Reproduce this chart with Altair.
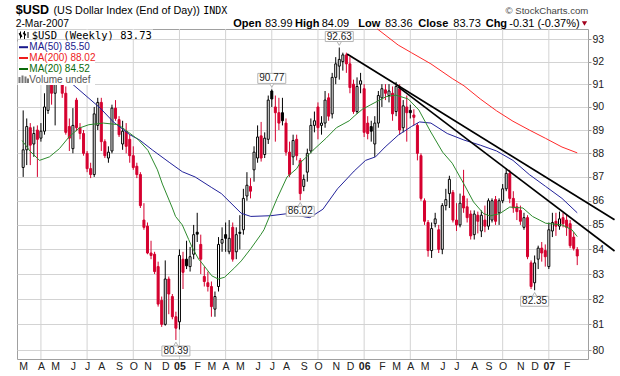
import altair as alt
import pandas as pd
import numpy as np

# ---------------- data (weekly $USD bars, index 0 = week of 1-Mar-2004) ----------------
opens = [87.4, 88.15, 89.1, 88.4, 89.0, 88.65, 88.95, 89.85, 91.3, 90.6,
         91.9, 92.0, 90.6, 89.15, 88.2, 90.3, 89.1, 88.85, 88.0, 87.35,
         87.1, 89.2, 90.2, 88.5, 87.8, 88.1, 89.95, 89.45, 88.4, 88.95,
         88.6, 87.9, 87.45, 87.1, 85.2, 84.95, 83.85, 83.8, 83.3, 81.95,
         81.0, 82.8, 82.1, 81.3, 81.1, 83.6, 83.6, 83.3, 83.8, 84.7,
         84.2, 82.9, 82.65, 82.5, 81.6, 82.5, 84.25, 84.6, 83.9, 84.9,
         83.9, 84.7, 84.8, 86.2, 86.6, 87.3, 87.8, 88.75, 87.95, 88.6,
         90.7, 90.0, 89.75, 89.75, 89.3, 88.05, 87.85, 88.6, 87.7, 86.6,
         87.2, 88.1, 89.2, 90.0, 89.2, 89.3, 90.4, 89.7, 91.3, 91.8,
         92.0, 92.3, 91.9, 91.0, 89.8, 91.0, 90.8, 89.3, 89.15, 88.4,
         89.3, 90.4, 90.75, 90.5, 90.6, 89.8, 90.8, 89.1, 90.0, 89.85,
         89.65, 89.2, 87.9, 86.0, 85.1, 83.95, 85.05, 84.8, 84.0, 85.8,
         86.3, 86.35, 85.2, 85.0, 86.2, 85.75, 85.45, 84.6, 85.4, 84.75,
         85.2, 84.95, 85.2, 86.05, 85.5, 86.0, 86.5, 87.15, 86.1, 85.75,
         85.6, 84.9, 85.3, 83.45, 82.65, 83.6, 84.05, 83.95, 83.3, 84.75,
         85.15, 84.95, 85.3, 85.2, 85.05, 84.5, 83.99]
highs = [89.85, 89.5, 89.3, 89.15, 89.2, 89.3, 90.6, 91.6, 91.5, 92.1,
         92.3, 92.2, 90.9, 89.5, 89.95, 90.4, 89.3, 89.0, 88.1, 87.6,
         90.0, 90.4, 90.4, 88.6, 88.3, 90.1, 90.3, 89.6, 89.4, 89.3,
         88.8, 88.3, 87.6, 87.2, 85.9, 85.1, 84.35, 83.9, 83.5, 82.1,
         83.55, 82.9, 82.2, 81.5, 84.0, 83.9, 84.35, 84.1, 85.0, 85.5,
         84.6, 83.3, 83.1, 82.7, 82.3, 84.5, 84.9, 85.1, 85.2, 85.1,
         84.9, 85.4, 86.5, 87.2, 86.95, 88.3, 89.2, 89.35, 88.9, 90.5,
         90.77, 90.5, 90.4, 90.4, 89.5, 88.5, 88.8, 88.8, 87.8, 87.1,
         88.2, 89.5, 89.8, 90.2, 89.6, 90.7, 90.6, 91.5, 92.2, 92.63,
         92.4, 92.4, 92.2, 91.2, 91.3, 91.5, 91.0, 89.6, 89.4, 89.6,
         90.7, 91.0, 91.0, 91.0, 90.9, 91.1, 91.0, 90.3, 90.5, 90.1,
         89.9, 89.3, 88.0, 86.1, 85.2, 85.1, 85.5, 85.0, 85.9, 86.5,
         87.05, 86.45, 85.9, 86.3, 87.3, 86.1, 85.6, 85.6, 85.55, 85.6,
         85.8, 86.1, 86.1, 86.2, 86.1, 86.7, 87.35, 87.3, 86.4, 85.9,
         85.8, 85.5, 85.4, 83.55, 83.75, 84.15, 84.3, 84.2, 85.1, 85.5,
         85.5, 85.55, 85.5, 85.45, 85.2, 84.7, 84.09]
lows = [87.0, 87.5, 87.5, 87.85, 87.0, 88.5, 88.8, 89.7, 90.1, 89.2,
        91.5, 90.4, 88.8, 88.1, 88.0, 88.95, 88.6, 87.9, 87.2, 86.95,
        87.0, 89.0, 88.1, 87.8, 87.6, 88.0, 89.4, 88.7, 88.15, 88.0,
        87.6, 87.3, 86.95, 85.7, 84.8, 83.8, 83.6, 83.0, 81.7, 80.9,
        80.95, 81.4, 81.2, 80.39, 80.8, 82.4, 83.2, 83.1, 83.6, 84.3,
        83.0, 82.5, 82.3, 81.3, 81.3, 82.3, 83.9, 83.9, 83.8, 83.5,
        83.6, 84.0, 84.6, 86.0, 86.1, 86.8, 87.6, 87.65, 87.8, 88.4,
        90.0, 88.5, 89.0, 89.2, 87.9, 87.0, 87.5, 87.7, 86.02, 86.4,
        86.8, 88.0, 88.9, 88.6, 88.8, 89.1, 89.4, 89.5, 91.0, 91.2,
        91.6, 91.5, 90.6, 89.7, 89.7, 90.6, 88.7, 88.6, 88.5, 87.85,
        89.1, 90.0, 90.3, 90.2, 89.4, 89.6, 88.8, 88.9, 88.5, 89.5,
        89.2, 87.7, 86.0, 85.0, 83.7, 83.65, 84.9, 83.85, 83.8, 85.6,
        85.7, 85.1, 84.75, 84.9, 85.5, 85.1, 84.4, 84.4, 84.65, 84.5,
        84.7, 84.8, 85.1, 85.0, 85.0, 85.9, 86.4, 85.9, 85.5, 85.2,
        85.0, 84.8, 83.6, 82.4, 82.35, 83.2, 83.5, 83.3, 83.2, 84.5,
        84.55, 84.8, 84.9, 84.55, 84.05, 83.95, 83.36]
closes = [88.15, 89.15, 88.35, 88.85, 88.6, 88.95, 90.0, 91.3, 90.6, 91.9,
          92.1, 90.6, 88.9, 88.65, 89.2, 89.1, 88.85, 88.0, 87.35, 87.1,
          89.7, 90.2, 88.5, 87.9, 88.05, 89.95, 89.5, 88.8, 88.95, 88.3,
          87.9, 87.4, 87.1, 85.8, 84.9, 83.85, 83.75, 83.1, 81.8, 81.0,
          82.8, 82.2, 81.3, 80.85, 83.75, 83.07, 83.33, 83.7, 84.6, 84.62,
          83.6, 82.7, 82.5, 81.7, 82.1, 84.2, 84.4, 84.45, 84.45, 83.6,
          84.6, 84.65, 86.1, 86.65, 86.4, 88.05, 88.7, 87.8, 88.65, 90.3,
          90.35, 89.75, 89.3, 89.4, 88.05, 87.1, 88.55, 87.9, 86.3, 86.9,
          88.0, 89.2, 89.4, 89.1, 89.3, 90.3, 89.6, 91.3, 91.9, 92.1,
          92.3, 91.9, 90.85, 89.8, 90.9, 91.15, 88.9, 88.85, 88.95, 89.3,
          90.5, 90.8, 90.6, 90.7, 89.7, 90.9, 89.0, 90.05, 89.75, 89.75,
          89.55, 88.0, 86.1, 85.15, 83.95, 84.85, 85.25, 84.0, 85.8, 86.05,
          86.9, 85.2, 85.0, 85.9, 85.7, 85.3, 84.55, 85.45, 85.15, 85.4,
          84.95, 86.0, 86.0, 85.15, 86.0, 86.5, 87.15, 86.1, 85.7, 85.55,
          85.15, 85.3, 83.7, 82.5, 83.45, 84.05, 83.85, 83.7, 84.8, 85.1,
          84.95, 85.25, 85.05, 84.9, 84.15, 84.04, 83.73]

# moving averages (bar index, value)
ma50_idx = [8, 13.9, 21.7, 25.4, 30, 32.8, 36.5, 41.1, 44.8, 48.4, 53.1, 55.8, 61.4, 64.1,
            69.7, 75.2, 79.3, 80.7, 84.4, 88.5, 93.2, 96.4, 99.2, 101.9, 105.6, 109.3, 111.6,
            114.8, 119.4, 124.1, 128.7, 133.3, 137.9, 142.5, 147.1, 151.7, 156]
ma50_val = [92.0, 91.0, 89.95, 89.35, 88.8, 88.57, 88.13, 87.62, 87.22, 87.0, 86.55, 86.3, 85.48,
            85.35, 85.38, 85.48, 85.33, 85.3, 85.65, 86.5, 87.25, 87.7, 87.85, 88.27, 88.78, 89.15,
            89.35, 89.3, 88.85, 88.57, 88.35, 88.1, 87.7, 87.1, 86.6, 86.1, 85.5]
ma200_idx = [99.7, 105.6, 109.3, 114.8, 120.8, 124.1, 128.7, 133.3, 137.9, 142.5, 147.1, 151.7, 156]
ma200_val = [93.47, 92.74, 92.4, 91.9, 91.25, 90.93, 90.35, 89.83, 89.38, 89.0, 88.64, 88.27, 88.02]
ma20_idx = [-0.3, 1.9, 4.6, 7.4, 10.2, 12.9, 15.7, 18.5, 22.6, 26.8, 29.5, 32.3, 35.1, 37.8, 39.2,
            40.6, 42.0, 42.9, 44.8, 46.6, 47.5, 49.4, 50.3, 53.1, 54.9, 56.7, 59.5, 61.4, 64.1, 66.9,
            67.8, 69.7, 71.5, 74.3, 77.0, 78.0, 79.8, 81.6, 85.3, 88.2, 91.8, 93.2, 95.5, 97.9,
            102.2, 104.9, 108.4, 111.4, 114.6, 118.1, 120.8, 124.1, 126.8, 129.6, 131.4, 134.2,
            137.0, 140.7, 143.4, 147.1, 151.7, 154.5, 156]
ma20_val = [88.55, 88.1, 87.7, 87.85, 88.2, 88.7, 89.08, 89.23, 89.3, 89.23, 88.92, 88.6, 88.13,
            87.3, 86.7, 86.2, 85.7, 85.35, 85.0, 84.4, 84.1, 83.6, 83.45, 82.93, 82.8, 82.87, 83.25,
            83.53, 84.03, 84.6, 84.8, 85.47, 86.1, 87.0, 87.35, 87.6, 87.85, 88.13, 88.65, 89.1,
            89.4, 89.6, 89.9, 90.1, 90.45, 90.52, 90.35, 89.87, 88.96, 88.05, 87.58, 86.7, 85.95,
            85.47, 85.37, 85.47, 85.74, 85.7, 85.35, 85.07, 85.0, 84.8, 84.52]

# trend lines (bar index, value) - they run past the last bar
trend_a_idx = [91.2, 166.5]
trend_a_val = [92.34, 85.21]
trend_b_idx = [105.6, 166.5]
trend_b_val = [90.88, 83.93]

# value call-outs
callout_idx = [89, 70, 43, 78, 144]
callout_val = [92.63, 90.77, 80.39, 86.02, 82.35]
callout_side = ["high", "high", "low", "low", "low"]

# axis labels
month_idx = [0, 5, 9, 14, 18, 22, 27, 31, 35, 40, 44, 49, 53, 57, 61, 66, 70, 74, 79, 83, 88, 92,
             96, 101, 105, 109, 113, 118, 122, 127, 131, 135, 140, 144, 148, 153]
month_lab = ["M", "A", "M", "J", "J", "A", "S", "O", "N", "D", "05", "F", "M", "A", "M", "J", "J",
             "A", "S", "O", "N", "D", "06", "F", "M", "A", "M", "J", "J", "A", "S", "O", "N", "D",
             "07", "F"]
quarter_idx = [5, 18, 31, 44, 57, 70, 83, 96, 109, 122, 135, 148]
y_ticks = list(range(80, 94))

# ---------------- chart ----------------
RED = "#d5002f"
SANS = "Liberation Sans"
MONO = "DejaVu Sans Mono"
W, H = 571, 330
xs = alt.Scale(domain=[-0.33, 157.62], nice=False, zero=False)
ys = alt.Scale(type="log", domain=[79.652, 93.466], nice=False, zero=False)

n = len(closes)
df = pd.DataFrame({"i": np.arange(n), "o": opens, "h": highs, "l": lows, "c": closes})
prev = df["c"].shift(1).fillna(df["o"])
df["col"] = np.where(df["c"] < prev, "down", "up")
df["bl"] = np.minimum(df["o"], df["c"])
df["bh"] = np.maximum(df["o"], df["c"])
df["filled"] = df["c"] < df["o"]
col_scale = alt.Scale(domain=["down", "up"], range=[RED, "#000000"])

month_expr = ("[" + ",".join("'%s'" % m for m in month_lab) + "][indexof(["
              + ",".join(str(v) for v in month_idx) + "], datum.value)]")
year_test = ("indexof([" + ",".join(str(v) for v, m in zip(month_idx, month_lab) if m.isdigit())
             + "], datum.value) >= 0")

AX_X = alt.Axis(
    values=month_idx, labelExpr=month_expr,
    labelFontWeight={"condition": {"test": year_test, "value": "bold"}, "value": "normal"},
    grid=False, ticks=False, domain=False, labelPadding=2, labelFontSize=10.5, labelFont=SANS,
    labelColor="#222222", labelOverlap=False, labelFlush=False, title=None)
AX_Y = alt.Axis(
    orient="right", values=y_ticks, grid=True, gridColor="#d3d3d3", gridWidth=1,
    tickSize=3, tickColor="#999999", domain=False, labelPadding=1, labelFontSize=10.5,
    labelFont=SANS, labelColor="#222222", labelOverlap=False, title=None)

X = lambda f: alt.X(f, scale=xs, axis=AX_X)
Y = lambda f: alt.Y(f, scale=ys, axis=AX_Y)

grid_q = alt.Chart(pd.DataFrame({"q": quarter_idx})).mark_rule(color="#d3d3d3", strokeWidth=1).encode(
    x=X("q:Q"), y=alt.value(0), y2=alt.value(H))

wicks = alt.Chart(df).mark_rule(strokeWidth=1).encode(
    x=X("i:Q"), y=Y("l:Q"), y2="h:Q",
    color=alt.Color("col:N", scale=col_scale, legend=None))

filled = alt.Chart(df[df["filled"]]).mark_bar(size=2, strokeWidth=1).encode(
    x=X("i:Q"), y=Y("bl:Q"), y2="bh:Q",
    fill=alt.Fill("col:N", scale=col_scale, legend=None),
    stroke=alt.Stroke("col:N", scale=col_scale, legend=None))

hollow = alt.Chart(df[~df["filled"]]).mark_bar(size=2, strokeWidth=1, fill="white").encode(
    x=X("i:Q"), y=Y("bl:Q"), y2="bh:Q",
    stroke=alt.Stroke("col:N", scale=col_scale, legend=None))

def ma_line(idx, val, color):
    return alt.Chart(pd.DataFrame({"i": idx, "v": val})).mark_line(
        color=color, strokeWidth=1).encode(x=X("i:Q"), y=Y("v:Q"), order="i:Q")

ma50 = ma_line(ma50_idx, ma50_val, "#22229a")
ma200 = ma_line(ma200_idx, ma200_val, "#ff2a2a")
ma20 = ma_line(ma20_idx, ma20_val, "#2e8b2e")

tdf = pd.DataFrame({"i": trend_a_idx + trend_b_idx, "v": trend_a_val + trend_b_val,
                    "g": ["a"] * len(trend_a_idx) + ["b"] * len(trend_b_idx)})
trends = alt.Chart(tdf).mark_line(color="black", strokeWidth=1.7).encode(
    x=X("i:Q"), y=Y("v:Q"), detail="g:N")

ca = pd.DataFrame({"i": callout_idx, "v": callout_val, "s": callout_side,
                   "t": ["%.2f" % v for v in callout_val]})
hi = ca[ca["s"] == "high"]
lo = ca[ca["s"] == "low"]

def callouts(d, sign):
    base = alt.Chart(d)
    tail = base.mark_point(shape="triangle-down" if sign < 0 else "triangle-up", size=22, filled=True,
                           fill="white", stroke="#b4b4b4", strokeWidth=1, yOffset=sign * 4.2,
                           opacity=1).encode(x=X("i:Q"), y=Y("v:Q"))
    box = base.mark_rect(fill="white", stroke="#b4b4b4", strokeWidth=1, xOffset=-14, x2Offset=14,
                         yOffset=sign * 6 if sign > 0 else sign * 16,
                         y2Offset=sign * 16 if sign > 0 else sign * 6).encode(
        x=X("i:Q"), x2="i:Q", y=Y("v:Q"), y2="v:Q")
    txt = base.mark_text(fontSize=10, font=SANS, color="#222222", baseline="middle",
                         yOffset=sign * 11).encode(x=X("i:Q"), y=Y("v:Q"), text="t:N")
    return [tail, box, txt]

one = alt.Data(values=[{}])

def label(txt, x, y, size=11, weight="normal", color="#000000", font=SANS, align="left",
          baseline="alphabetic"):
    return alt.Chart(one).mark_text(text=txt, fontSize=size, fontWeight=weight, color=color,
                                    font=font, align=align, baseline=baseline).encode(
        x=alt.value(x), y=alt.value(y))

def box(x1, x2, y1, y2, color="white"):
    return alt.Chart(one).mark_rect(color=color).encode(
        x=alt.value(x1), x2=alt.value(x2), y=alt.value(y1), y2=alt.value(y2))

def seg(x1, x2, y1, y2, color, w):
    return alt.Chart(one).mark_rule(color=color, strokeWidth=w).encode(
        x=alt.value(x1), x2=alt.value(x2), y=alt.value(y1), y2=alt.value(y2))

legend = [
    box(0.5, 136, 0.5, 9.8),
    box(0.5, 78, 12.5, 56),
    seg(3.5, 3.5, 2.5, 9.5, "#000", 1), seg(2.5, 4.5, 4, 8, "#000", 2),
    seg(7.5, 7.5, 2, 10, "#000", 1), seg(6.5, 8.5, 3.5, 6.5, "#000", 2),
    seg(11, 11, 3, 9, "#000", 1),
    label("$USD (Weekly) 83.73", 14.7, 6.5, size=10.5, font=MONO, baseline="middle"),
]
rows = [("MA(50) 85.50", "#1a1a8c", 18.2), ("MA(200) 88.02", "#ee1c1c", 29.0),
        ("MA(20) 84.52", "#0b6b0b", 40.0)]
for t, c, y in rows:
    legend.append(seg(2, 11, y, y, c, 2))
    legend.append(label(t, 12.3, y, size=10, color=c, baseline="middle"))
for xv, y1 in [(2.5, 48), (5.5, 46.5), (8.5, 47.5), (11, 49.5)]:
    legend.append(seg(xv, xv, y1, 54, "#777777", 2))
legend.append(label("Volume undef", 12.3, 50.5, size=10, color="#555555", baseline="middle"))

header = [
    label("$USD", -1.3, -15.0, size=12.5, weight="bold"),
    label("(US Dollar Index (End of Day))", 36.5, -15.2, size=10.8),
    label("INDX", 186.3, -15.2, size=10, font=MONO),
    label("2-Mar-2007", -1.3, -2.0, size=10.3),
    label("Open", 216.3, -2.3, weight="bold"), label("83.99", 248.0, -2.3),
    label("High", 278.0, -2.3, weight="bold"), label("84.09", 304.7, -2.3),
    label("Low", 341.3, -2.3, weight="bold"), label("83.36", 368.0, -2.3),
    label("Close", 401.3, -2.3, weight="bold"), label("83.73", 436.3, -2.3),
    label("Chg", 468.7, -2.3, weight="bold"), label("-0.31 (-0.37%)", 492.3, -2.3),
    alt.Chart(one).mark_point(shape="triangle-down", filled=True, color="#a3001c", size=28,
                              opacity=1).encode(x=alt.value(567.5), y=alt.value(-5.5)),
    label("\u00a9 StockCharts.com", 571.3, -15.0, size=9.6, color="#444444", align="right"),
]

layers = ([grid_q, wicks, filled, hollow, ma200, ma50, ma20, trends]
          + callouts(hi, -1) + callouts(lo, 1) + legend + header)

chart = alt.layer(*layers).properties(
    width=W, height=H,
    padding={"left": 17, "top": 29, "right": 32, "bottom": 17},
    autosize=alt.AutoSizeParams(type="none"),
    background="white",
).configure_view(stroke="#a0a0a0", strokeWidth=1)

chart.save("out.html", embed_options={"renderer": "svg", "actions": False})
